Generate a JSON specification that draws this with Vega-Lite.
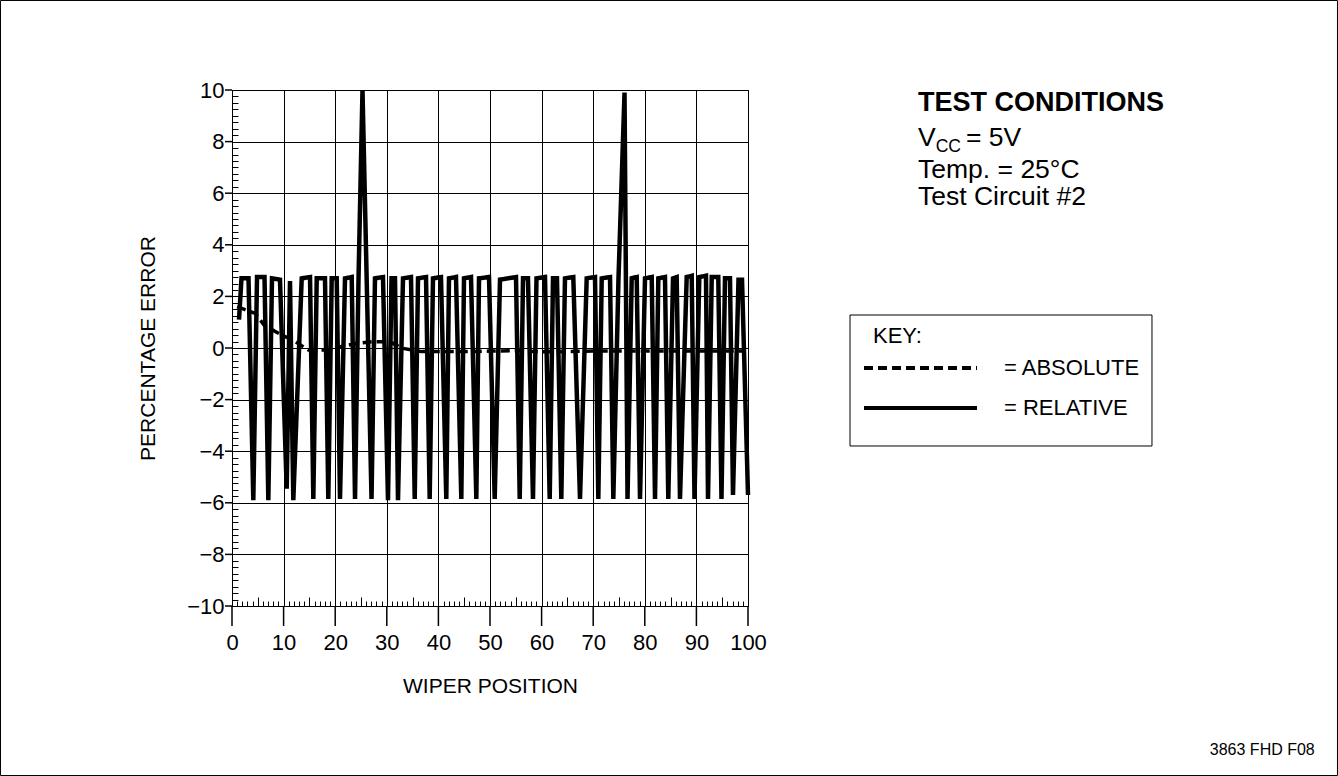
{
  "$schema": "https://vega.github.io/schema/vega-lite/v6.json",
  "width": 516,
  "height": 516,
  "autosize": {"type": "none"},
  "padding": {"left": 232, "top": 90, "right": 590, "bottom": 170},
  "background": "white",
  "config": {
    "font": "Liberation Sans",
    "view": {"stroke": "black", "strokeWidth": 1},
    "axis": {
      "domainColor": "black", "labelColor": "black", "titleColor": "black",
      "gridColor": "black", "gridOpacity": 1, "gridWidth": 1, "domainWidth": 1,
      "labelFont": "Liberation Sans", "titleFont": "Liberation Sans", "titleFontWeight": "normal", "labelFlush": false
    }
  },
  "datasets": {
    "frame": [{"x1": -44.86, "x2": 214.24, "y1": 13.469, "y2": -16.57}],
    "keybox": [{"x1": 119.77, "x2": 178.29, "y1": 1.279, "y2": -3.798}],
    "xmajor": [
      {"v": 0, "lo": -10, "hi": -10.775}, {"v": 10, "lo": -10, "hi": -10.775}, {"v": 20, "lo": -10, "hi": -10.775},
      {"v": 30, "lo": -10, "hi": -10.775}, {"v": 40, "lo": -10, "hi": -10.775}, {"v": 50, "lo": -10, "hi": -10.775},
      {"v": 60, "lo": -10, "hi": -10.775}, {"v": 70, "lo": -10, "hi": -10.775}, {"v": 80, "lo": -10, "hi": -10.775},
      {"v": 90, "lo": -10, "hi": -10.775}, {"v": 100, "lo": -10, "hi": -10.775}
    ],
    "ymajor": [
      {"v": -10, "lo": 0, "hi": -1.36}, {"v": -8, "lo": 0, "hi": -1.36}, {"v": -6, "lo": 0, "hi": -1.36}, {"v": -4, "lo": 0, "hi": -1.36},
      {"v": -2, "lo": 0, "hi": -1.36}, {"v": 0, "lo": 0, "hi": -1.36}, {"v": 2, "lo": 0, "hi": -1.36}, {"v": 4, "lo": 0, "hi": -1.36},
      {"v": 6, "lo": 0, "hi": -1.36}, {"v": 8, "lo": 0, "hi": -1.36}, {"v": 10, "lo": 0, "hi": -1.36}
    ],
    "lines": [
      {"series": "RELATIVE", "wiper": 1.36, "error": 1.1},
      {"series": "RELATIVE", "wiper": 1.84, "error": 2.7},
      {"series": "RELATIVE", "wiper": 3.2, "error": 2.7},
      {"series": "RELATIVE", "wiper": 4.13, "error": -5.9},
      {"series": "RELATIVE", "wiper": 4.85, "error": 2.75},
      {"series": "RELATIVE", "wiper": 6.3, "error": 2.75},
      {"series": "RELATIVE", "wiper": 7.04, "error": -5.9},
      {"series": "RELATIVE", "wiper": 7.75, "error": 2.7},
      {"series": "RELATIVE", "wiper": 9.3, "error": 2.65},
      {"series": "RELATIVE", "wiper": 10.6, "error": -5.45},
      {"series": "RELATIVE", "wiper": 11.24, "error": 2.6},
      {"series": "RELATIVE", "wiper": 11.88, "error": -5.9},
      {"series": "RELATIVE", "wiper": 13.51, "error": 2.7},
      {"series": "RELATIVE", "wiper": 15.12, "error": 2.75},
      {"series": "RELATIVE", "wiper": 15.76, "error": -5.85},
      {"series": "RELATIVE", "wiper": 16.42, "error": 2.7},
      {"series": "RELATIVE", "wiper": 18.02, "error": 2.7},
      {"series": "RELATIVE", "wiper": 18.66, "error": -5.85},
      {"series": "RELATIVE", "wiper": 19.32, "error": 2.7},
      {"series": "RELATIVE", "wiper": 20.29, "error": 2.7},
      {"series": "RELATIVE", "wiper": 20.93, "error": -5.85},
      {"series": "RELATIVE", "wiper": 21.9, "error": 2.7},
      {"series": "RELATIVE", "wiper": 23.2, "error": 2.75},
      {"series": "RELATIVE", "wiper": 23.84, "error": -5.85},
      {"series": "RELATIVE", "wiper": 24.52, "error": 2.7},
      {"series": "RELATIVE", "wiper": 25.29, "error": 10},
      {"series": "RELATIVE", "wiper": 27.04, "error": -5.85},
      {"series": "RELATIVE", "wiper": 27.71, "error": 2.7},
      {"series": "RELATIVE", "wiper": 29.26, "error": 2.75},
      {"series": "RELATIVE", "wiper": 30.23, "error": -5.9},
      {"series": "RELATIVE", "wiper": 30.91, "error": 2.7},
      {"series": "RELATIVE", "wiper": 31.59, "error": 2.7},
      {"series": "RELATIVE", "wiper": 32.17, "error": -5.9},
      {"series": "RELATIVE", "wiper": 33.14, "error": 2.7},
      {"series": "RELATIVE", "wiper": 34.69, "error": 2.75},
      {"series": "RELATIVE", "wiper": 35.41, "error": -5.85},
      {"series": "RELATIVE", "wiper": 36.05, "error": 2.7},
      {"series": "RELATIVE", "wiper": 37.6, "error": 2.75},
      {"series": "RELATIVE", "wiper": 38.31, "error": -5.85},
      {"series": "RELATIVE", "wiper": 38.95, "error": 2.7},
      {"series": "RELATIVE", "wiper": 40.5, "error": 2.75},
      {"series": "RELATIVE", "wiper": 41.53, "error": -5.85},
      {"series": "RELATIVE", "wiper": 42.05, "error": 2.7},
      {"series": "RELATIVE", "wiper": 43.41, "error": 2.75},
      {"series": "RELATIVE", "wiper": 44.44, "error": -5.85},
      {"series": "RELATIVE", "wiper": 44.96, "error": 2.7},
      {"series": "RELATIVE", "wiper": 46.32, "error": 2.75},
      {"series": "RELATIVE", "wiper": 47.35, "error": -5.85},
      {"series": "RELATIVE", "wiper": 47.87, "error": 2.7},
      {"series": "RELATIVE", "wiper": 49.81, "error": 2.75},
      {"series": "RELATIVE", "wiper": 50.91, "error": -5.85},
      {"series": "RELATIVE", "wiper": 51.94, "error": 2.65},
      {"series": "RELATIVE", "wiper": 55.04, "error": 2.75},
      {"series": "RELATIVE", "wiper": 55.76, "error": -5.85},
      {"series": "RELATIVE", "wiper": 56.4, "error": 2.7},
      {"series": "RELATIVE", "wiper": 57.36, "error": 2.7},
      {"series": "RELATIVE", "wiper": 58.33, "error": -5.85},
      {"series": "RELATIVE", "wiper": 59.01, "error": 2.7},
      {"series": "RELATIVE", "wiper": 60.66, "error": 2.75},
      {"series": "RELATIVE", "wiper": 61.57, "error": -5.85},
      {"series": "RELATIVE", "wiper": 62.21, "error": 2.7},
      {"series": "RELATIVE", "wiper": 62.98, "error": 2.7},
      {"series": "RELATIVE", "wiper": 63.82, "error": -5.85},
      {"series": "RELATIVE", "wiper": 64.53, "error": 2.7},
      {"series": "RELATIVE", "wiper": 66.14, "error": 2.75},
      {"series": "RELATIVE", "wiper": 67.44, "error": -5.85},
      {"series": "RELATIVE", "wiper": 68.74, "error": 2.7},
      {"series": "RELATIVE", "wiper": 70.35, "error": 2.75},
      {"series": "RELATIVE", "wiper": 70.99, "error": -5.85},
      {"series": "RELATIVE", "wiper": 71.65, "error": 2.7},
      {"series": "RELATIVE", "wiper": 73.26, "error": 2.75},
      {"series": "RELATIVE", "wiper": 73.9, "error": -5.85},
      {"series": "RELATIVE", "wiper": 74.9, "error": 2.7},
      {"series": "RELATIVE", "wiper": 76.07, "error": 9.9},
      {"series": "RELATIVE", "wiper": 76.65, "error": -5.85},
      {"series": "RELATIVE", "wiper": 77.46, "error": 2.7},
      {"series": "RELATIVE", "wiper": 78.43, "error": 2.75},
      {"series": "RELATIVE", "wiper": 79.07, "error": -5.85},
      {"series": "RELATIVE", "wiper": 80.04, "error": 2.7},
      {"series": "RELATIVE", "wiper": 81.34, "error": 2.75},
      {"series": "RELATIVE", "wiper": 81.98, "error": -5.85},
      {"series": "RELATIVE", "wiper": 82.62, "error": 2.7},
      {"series": "RELATIVE", "wiper": 83.91, "error": 2.75},
      {"series": "RELATIVE", "wiper": 84.55, "error": -5.85},
      {"series": "RELATIVE", "wiper": 85.47, "error": 2.7},
      {"series": "RELATIVE", "wiper": 86.18, "error": 2.75},
      {"series": "RELATIVE", "wiper": 86.82, "error": -5.85},
      {"series": "RELATIVE", "wiper": 88.12, "error": 2.75},
      {"series": "RELATIVE", "wiper": 89.09, "error": 2.8},
      {"series": "RELATIVE", "wiper": 89.63, "error": -5.85},
      {"series": "RELATIVE", "wiper": 90.56, "error": 2.75},
      {"series": "RELATIVE", "wiper": 91.86, "error": 2.8},
      {"series": "RELATIVE", "wiper": 92.25, "error": -5.85},
      {"series": "RELATIVE", "wiper": 92.97, "error": 2.75},
      {"series": "RELATIVE", "wiper": 94.24, "error": 2.75},
      {"series": "RELATIVE", "wiper": 94.86, "error": -5.85},
      {"series": "RELATIVE", "wiper": 95.54, "error": 2.7},
      {"series": "RELATIVE", "wiper": 96.51, "error": 2.7},
      {"series": "RELATIVE", "wiper": 97.09, "error": -5.7},
      {"series": "RELATIVE", "wiper": 98.16, "error": 2.65},
      {"series": "RELATIVE", "wiper": 98.84, "error": 2.65},
      {"series": "RELATIVE", "wiper": 100, "error": -5.7},
      {"series": "ABSOLUTE", "wiper": 1, "error": 1.6},
      {"series": "ABSOLUTE", "wiper": 4.5, "error": 1.34},
      {"series": "ABSOLUTE", "wiper": 6.3, "error": 0.87},
      {"series": "ABSOLUTE", "wiper": 9.3, "error": 0.54},
      {"series": "ABSOLUTE", "wiper": 12.1, "error": 0.27},
      {"series": "ABSOLUTE", "wiper": 14.8, "error": -0.08},
      {"series": "ABSOLUTE", "wiper": 18.7, "error": -0.08},
      {"series": "ABSOLUTE", "wiper": 21, "error": 0.05},
      {"series": "ABSOLUTE", "wiper": 24.5, "error": 0.19},
      {"series": "ABSOLUTE", "wiper": 27.1, "error": 0.24},
      {"series": "ABSOLUTE", "wiper": 30.6, "error": 0.24},
      {"series": "ABSOLUTE", "wiper": 33, "error": -0.01},
      {"series": "ABSOLUTE", "wiper": 36.7, "error": -0.14},
      {"series": "ABSOLUTE", "wiper": 45, "error": -0.14},
      {"series": "ABSOLUTE", "wiper": 50, "error": -0.12},
      {"series": "ABSOLUTE", "wiper": 55, "error": -0.1},
      {"series": "ABSOLUTE", "wiper": 60, "error": -0.15},
      {"series": "ABSOLUTE", "wiper": 70, "error": -0.12},
      {"series": "ABSOLUTE", "wiper": 80, "error": -0.12},
      {"series": "ABSOLUTE", "wiper": 90, "error": -0.12},
      {"series": "ABSOLUTE", "wiper": 99, "error": -0.12}
    ],
    "notes": [
      {"x": 132.95, "y": 7.83, "t": "V"},
      {"x": 142.25, "y": 7.83, "t": "= 5V"},
      {"x": 132.95, "y": 6.59, "t": "Temp. = 25°C"},
      {"x": 132.95, "y": 5.54, "t": "Test Circuit #2"}
    ],
    "heading": [{"x": 132.95, "y": 9.19, "t": "TEST CONDITIONS"}],
    "subscript": [{"x": 136.38, "y": 7.61, "t": "CC"}],
    "keylabel": [{"x": 124.22, "y": 0.19, "t": "KEY:"}],
    "footnote": [{"x": 189.5, "y": -15.78, "t": "3863 FHD F08"}]
  },
  "layer": [
    {
      "data": {"name": "frame"},
      "mark": {"type": "rect", "filled": false, "color": "black", "strokeWidth": 1},
      "encoding": {
        "x": {"field": "x1", "type": "quantitative", "scale": {"domain": [0, 100], "nice": false, "zero": false},
          "axis": {"orient": "bottom", "values": [1,2,3,4,6,7,8,9,11,12,13,14,16,17,18,19,21,22,23,24,26,27,28,29,31,32,33,34,36,37,38,39,41,42,43,44,46,47,48,49,51,52,53,54,56,57,58,59,61,62,63,64,66,67,68,69,71,72,73,74,76,77,78,79,81,82,83,84,86,87,88,89,91,92,93,94,96,97,98,99],
            "tickSize": -5, "tickColor": "black", "labels": false, "domain": false, "grid": false, "title": null}},
        "x2": {"field": "x2"},
        "y": {"field": "y1", "type": "quantitative", "scale": {"domain": [-10, 10], "nice": false, "zero": false},
          "axis": {"orient": "left", "values": [-9.75,-9.5,-9.25,-9,-8.75,-8.5,-8.25,-7.75,-7.5,-7.25,-7,-6.75,-6.5,-6.25,-5.75,-5.5,-5.25,-5,-4.75,-4.5,-4.25,-3.75,-3.5,-3.25,-3,-2.75,-2.5,-2.25,-1.75,-1.5,-1.25,-1,-0.75,-0.5,-0.25,0.25,0.5,0.75,1,1.25,1.5,1.75,2.25,2.5,2.75,3,3.25,3.5,3.75,4.25,4.5,4.75,5,5.25,5.5,5.75,6.25,6.5,6.75,7,7.25,7.5,7.75,8.25,8.5,8.75,9,9.25,9.5,9.75],
            "tickSize": -6, "tickColor": "black", "labels": false, "domain": false, "grid": false, "title": null}},
        "y2": {"field": "y2"}
      }
    },
    {
      "data": {"name": "keybox"},
      "mark": {"type": "rect", "filled": false, "color": "black", "strokeWidth": 1},
      "encoding": {
        "x": {"field": "x1", "type": "quantitative", "scale": {"domain": [0, 100], "nice": false, "zero": false},
          "axis": {"orient": "bottom", "values": [5,15,25,35,45,55,65,75,85,95], "tickSize": -9, "tickColor": "black", "labels": false, "domain": false, "grid": false, "title": null}},
        "x2": {"field": "x2"},
        "y": {"field": "y1", "type": "quantitative", "scale": {"domain": [-10, 10], "nice": false, "zero": false}, "axis": null},
        "y2": {"field": "y2"}
      }
    },
    {
      "data": {"name": "xmajor"},
      "mark": {"type": "rule", "color": "black", "strokeWidth": 1.5},
      "encoding": {
        "x": {"field": "v", "type": "quantitative", "scale": {"domain": [0, 100], "nice": false, "zero": false}, "axis": null},
        "y": {"field": "lo", "type": "quantitative", "scale": {"domain": [-10, 10], "nice": false, "zero": false}, "axis": null},
        "y2": {"field": "hi"}
      }
    },
    {
      "data": {"name": "ymajor"},
      "mark": {"type": "rule", "color": "black", "strokeWidth": 1.5},
      "encoding": {
        "y": {"field": "v", "type": "quantitative", "scale": {"domain": [-10, 10], "nice": false, "zero": false}, "axis": null},
        "x": {"field": "lo", "type": "quantitative", "scale": {"domain": [0, 100], "nice": false, "zero": false}, "axis": null},
        "x2": {"field": "hi"}
      }
    },
    {
      "data": {"name": "lines"},
      "transform": [{"filter": "datum.series === 'ABSOLUTE'"}],
      "mark": {"type": "line", "color": "black", "strokeWidth": 3.5},
      "encoding": {
        "x": {"field": "wiper", "type": "quantitative", "scale": {"domain": [0, 100], "nice": false, "zero": false},
          "axis": {"orient": "bottom", "values": [0,10,20,30,40,50,60,70,80,90,100], "ticks": false, "labelPadding": 26, "labelFontSize": 22,
            "title": "WIPER POSITION", "titleFontSize": 21, "titlePadding": 22, "grid": true}},
        "y": {"field": "error", "type": "quantitative", "scale": {"domain": [-10, 10], "nice": false, "zero": false},
          "axis": {"orient": "left", "values": [-10,-8,-6,-4,-2,0,2,4,6,8,10], "ticks": false, "labelPadding": 8, "labelFontSize": 22,
            "title": "PERCENTAGE ERROR", "titleFontSize": 21, "titlePadding": 28, "grid": true}},
        "strokeDash": {"field": "series", "type": "nominal",
          "scale": {"domain": ["ABSOLUTE", "RELATIVE"], "range": [[9, 5], [1, 0]]},
          "legend": {"orient": "none", "legendX": 630, "legendY": 268, "title": null, "labelFontSize": 22, "labelColor": "black", "labelOffset": 25,
            "symbolType": "stroke", "symbolSize": 12769, "symbolStrokeWidth": 4, "symbolStrokeColor": "black",
            "clipHeight": 20, "rowPadding": 18, "padding": 0, "labelExpr": "'= ' + datum.label"}}
      }
    },
    {
      "data": {"name": "lines"},
      "transform": [{"filter": "datum.series === 'RELATIVE'"}],
      "mark": {"type": "line", "color": "black", "strokeWidth": 4.5, "strokeJoin": "miter"},
      "encoding": {
        "x": {"field": "wiper", "type": "quantitative", "scale": {"domain": [0, 100], "nice": false, "zero": false}, "axis": null},
        "y": {"field": "error", "type": "quantitative", "scale": {"domain": [-10, 10], "nice": false, "zero": false}, "axis": null},
        "strokeDash": {"field": "series", "type": "nominal", "scale": {"domain": ["ABSOLUTE", "RELATIVE"], "range": [[9, 5], [1, 0]]}}
      }
    },
    {
      "data": {"name": "heading"},
      "mark": {"type": "text", "align": "left", "baseline": "alphabetic", "fontSize": 27, "fontWeight": "bold", "color": "black", "font": "Liberation Sans"},
      "encoding": {
        "x": {"field": "x", "type": "quantitative", "scale": {"domain": [0, 100], "nice": false, "zero": false}, "axis": null},
        "y": {"field": "y", "type": "quantitative", "scale": {"domain": [-10, 10], "nice": false, "zero": false}, "axis": null},
        "text": {"field": "t"}
      }
    },
    {
      "data": {"name": "notes"},
      "mark": {"type": "text", "align": "left", "baseline": "alphabetic", "fontSize": 26.5, "color": "black", "font": "Liberation Sans"},
      "encoding": {
        "x": {"field": "x", "type": "quantitative", "scale": {"domain": [0, 100], "nice": false, "zero": false}, "axis": null},
        "y": {"field": "y", "type": "quantitative", "scale": {"domain": [-10, 10], "nice": false, "zero": false}, "axis": null},
        "text": {"field": "t"}
      }
    },
    {
      "data": {"name": "subscript"},
      "mark": {"type": "text", "align": "left", "baseline": "alphabetic", "fontSize": 17.5, "color": "black", "font": "Liberation Sans"},
      "encoding": {
        "x": {"field": "x", "type": "quantitative", "scale": {"domain": [0, 100], "nice": false, "zero": false}, "axis": null},
        "y": {"field": "y", "type": "quantitative", "scale": {"domain": [-10, 10], "nice": false, "zero": false}, "axis": null},
        "text": {"field": "t"}
      }
    },
    {
      "data": {"name": "keylabel"},
      "mark": {"type": "text", "align": "left", "baseline": "alphabetic", "fontSize": 22, "color": "black", "font": "Liberation Sans"},
      "encoding": {
        "x": {"field": "x", "type": "quantitative", "scale": {"domain": [0, 100], "nice": false, "zero": false}, "axis": null},
        "y": {"field": "y", "type": "quantitative", "scale": {"domain": [-10, 10], "nice": false, "zero": false}, "axis": null},
        "text": {"field": "t"}
      }
    },
    {
      "data": {"name": "footnote"},
      "mark": {"type": "text", "align": "left", "baseline": "alphabetic", "fontSize": 16, "color": "black", "font": "Liberation Sans"},
      "encoding": {
        "x": {"field": "x", "type": "quantitative", "scale": {"domain": [0, 100], "nice": false, "zero": false}, "axis": null},
        "y": {"field": "y", "type": "quantitative", "scale": {"domain": [-10, 10], "nice": false, "zero": false}, "axis": null},
        "text": {"field": "t"}
      }
    }
  ],
  "resolve": {"axis": {"x": "independent", "y": "independent"}}
}
